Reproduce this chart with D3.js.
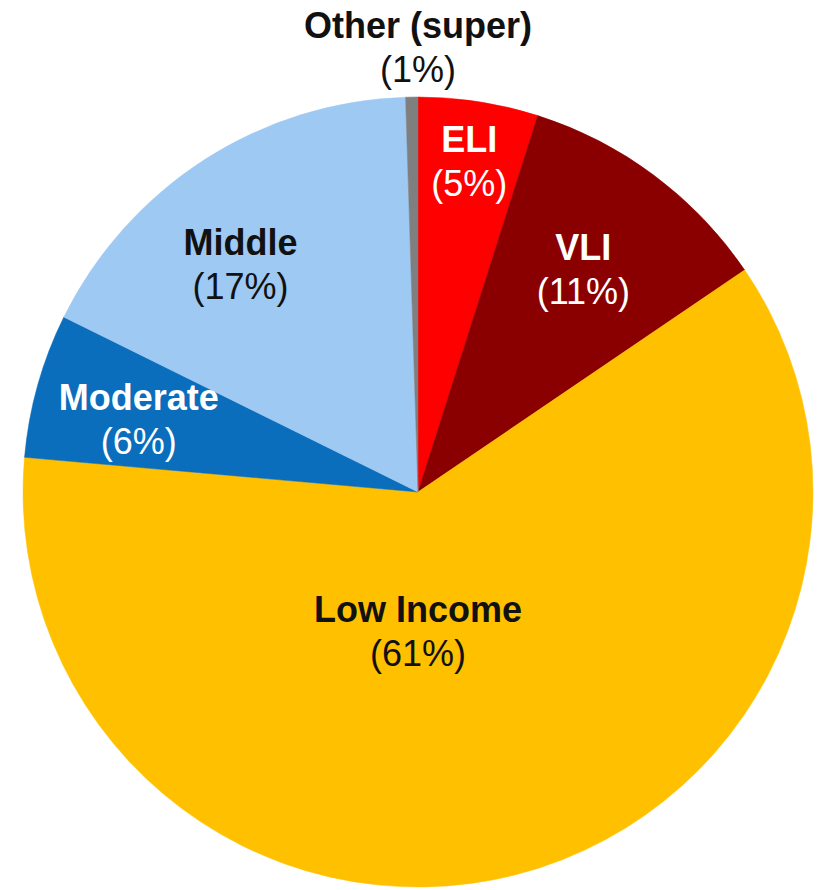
<!DOCTYPE html>
<html>
<head>
<title>Income Categories</title>
<style>
body { margin: 0; background: #fff; }
text {
    font-family: "Liberation Sans", Arial, sans-serif;
    font-size: 36px;
}
text .name { font-weight: bold; }
</style>
</head>
<body>
<script src="https://cdn.jsdelivr.net/npm/d3@7/dist/d3.min.js"></script>
<div id="chart"></div>
<script>
var categories = ["ELI", "VLI", "Low Income", "Moderate", "Middle", "Other (super)"];
var shares = [4.9, 10.6, 60.9, 5.9, 17.2, 0.5];
var pctLabels = ["5%", "11%", "61%", "6%", "17%", "1%"];

(function() {
    var dimensions = { width: 821, height: 890 };
    var center = { x: 418, y: 492 };
    var radius = 395;

    var colors = {
        "ELI": "#ff0000",
        "VLI": "#8a0000",
        "Low Income": "#ffc000",
        "Moderate": "#0a6ebd",
        "Middle": "#9ec9f2",
        "Other (super)": "#7f7f7f"
    };
    var textColors = {
        "ELI": "#fff",
        "VLI": "#fff",
        "Low Income": "#111",
        "Moderate": "#fff",
        "Middle": "#111",
        "Other (super)": "#111"
    };
    // label placement: radius as fraction of pie radius, optional fixed angle (degrees from 12 o'clock)
    var labelLayout = {
        "ELI": { r: 0.845 },
        "VLI": { r: 0.70 },
        "Low Income": { r: 0.355, angle: 180 },
        "Moderate": { r: 0.73, angle: 284.5 },
        "Middle": { r: 0.73, angle: 322 },
        "Other (super)": { r: 1.125, angle: 0 }
    };
    var lineGap = 44;

    var data = categories.map(function(c, i) {
        return { name: c, value: shares[i], pct: pctLabels[i] };
    });

    var pie = d3.pie()
        .sort(null)
        .value(function(d) { return d.value; });
    var arc = d3.arc()
        .innerRadius(0)
        .outerRadius(radius);

    var svg = d3.select("#chart")
        .append("svg")
        .attr("width", dimensions.width)
        .attr("height", dimensions.height);

    var g = svg.append("g")
        .attr("transform", "translate(" + center.x + "," + center.y + ")");

    var arcs = pie(data);

    g.append("g")
        .attr("class", "slices")
        .selectAll("path")
        .data(arcs)
        .enter().append("path")
        .attr("d", arc)
        .attr("fill", function(d) { return colors[d.data.name]; })
        .attr("stroke", function(d) { return colors[d.data.name]; })
        .attr("stroke-width", 0.5);

    var labels = g.append("g")
        .attr("class", "labels")
        .selectAll("text")
        .data(arcs)
        .enter().append("text")
        .attr("text-anchor", "middle")
        .attr("fill", function(d) { return textColors[d.data.name]; })
        .attr("transform", function(d) {
            var lay = labelLayout[d.data.name];
            var a = lay.angle !== undefined ? lay.angle * Math.PI / 180 : (d.startAngle + d.endAngle) / 2;
            var r = lay.r * radius;
            var x = r * Math.sin(a);
            var y = -r * Math.cos(a);
            return "translate(" + x + "," + y + ")";
        });

    labels.append("tspan")
        .attr("class", "name")
        .attr("x", 0)
        .attr("y", -lineGap / 2 + 12)
        .text(function(d) { return d.data.name; });
    labels.append("tspan")
        .attr("x", 0)
        .attr("y", lineGap / 2 + 12)
        .text(function(d) { return "(" + d.data.pct + ")"; });
})();
</script>
</body>
</html>
